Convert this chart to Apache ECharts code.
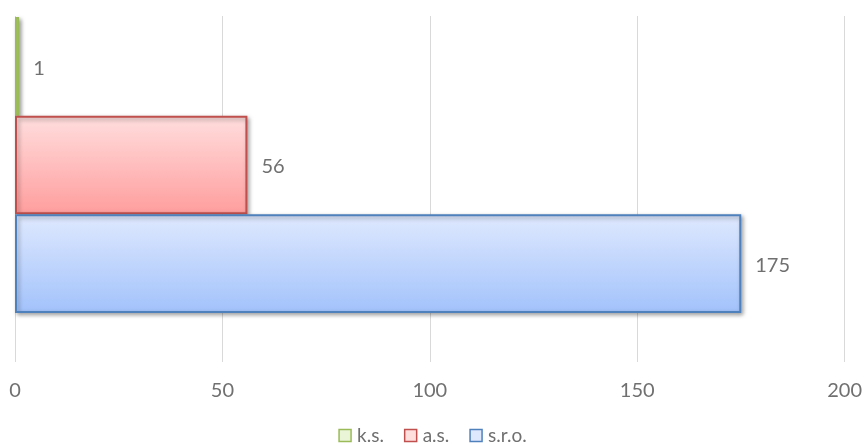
<!DOCTYPE html>
<html>
<head>
<meta charset="utf-8">
<script src="https://cdn.jsdelivr.net/npm/echarts@6/dist/echarts.min.js"></script>
<style>
  html, body { margin: 0; padding: 0; background: #ffffff; }
  #chart { width: 865px; height: 446px; }
</style>
</head>
<body>
<div id="chart"></div>
<script>
// Company counts by legal form
const seriesNames = ['k.s.', 'a.s.', 's.r.o.'];
const seriesValues = [1, 56, 175];
const axisTicks = [0, 50, 100, 150, 200];

const borderColors = ['#9bbb59', '#c0504d', '#4f81bd'];
const fillTop = ['#eaf5d8', '#ffdede', '#dfe9fe'];
const fillBottom = ['#c8e39a', '#ff9d9d', '#a2c2fb'];

const chart = echarts.init(document.getElementById('chart'));
const font = 'Lato, "Open Sans", sans-serif';
const textColor = '#707070';

const series = seriesNames.map((name, i) => ({
  name: name,
  type: 'bar',
  xAxisIndex: 1,
  yAxisIndex: 1,
  barGap: '0%',
  barCategoryGap: '0%',
  data: [seriesValues[i]],
  itemStyle: {
    color: new echarts.graphic.LinearGradient(0, 0, 0, 1, [
      { offset: 0, color: fillTop[i] },
      { offset: 1, color: fillBottom[i] }
    ]),
    borderColor: borderColors[i],
    borderWidth: 2,
    shadowColor: 'rgba(0,0,0,0.35)',
    shadowBlur: 4,
    shadowOffsetX: 2,
    shadowOffsetY: 2
  },
  label: {
    show: true,
    position: 'right',
    distance: 14,
    offset: [0, 2],
    color: textColor,
    fontFamily: font,
    fontSize: 20
  }
}));

chart.setOption({
  animation: false,
  legend: {
    top: 421,
    left: 'center',
    itemWidth: 12,
    itemHeight: 12,
    itemGap: 20,
    icon: 'rect',
    data: seriesNames.map((n, i) => ({
      name: n,
      itemStyle: { color: fillTop[i], borderColor: borderColors[i], borderWidth: 1.5, shadowBlur: 0, shadowOffsetX: 0, shadowOffsetY: 0 }
    })),
    textStyle: { color: textColor, fontFamily: font, fontSize: 19, padding: [0, 0, 0, 1] }
  },
  grid: [
    // gridlines and tick labels
    { left: 15, right: 20, top: 16, bottom: 84 },
    // bars
    { left: 15, right: 20, top: 17, bottom: 133 }
  ],
  xAxis: [
    {
      gridIndex: 0,
      type: 'value',
      min: axisTicks[0],
      max: axisTicks[axisTicks.length - 1],
      interval: axisTicks[1] - axisTicks[0],
      axisLine: { show: false },
      axisTick: { show: false },
      splitLine: { show: true, lineStyle: { color: '#d9d9d9', width: 1 } },
      axisLabel: { color: textColor, fontFamily: font, fontSize: 20, margin: 19 }
    },
    {
      gridIndex: 1,
      type: 'value',
      min: axisTicks[0],
      max: axisTicks[axisTicks.length - 1],
      show: false
    }
  ],
  yAxis: [
    { gridIndex: 0, type: 'category', data: [''], show: false },
    { gridIndex: 1, type: 'category', data: [''], show: false, inverse: true }
  ],
  series: series
});
</script>
</body>
</html>
